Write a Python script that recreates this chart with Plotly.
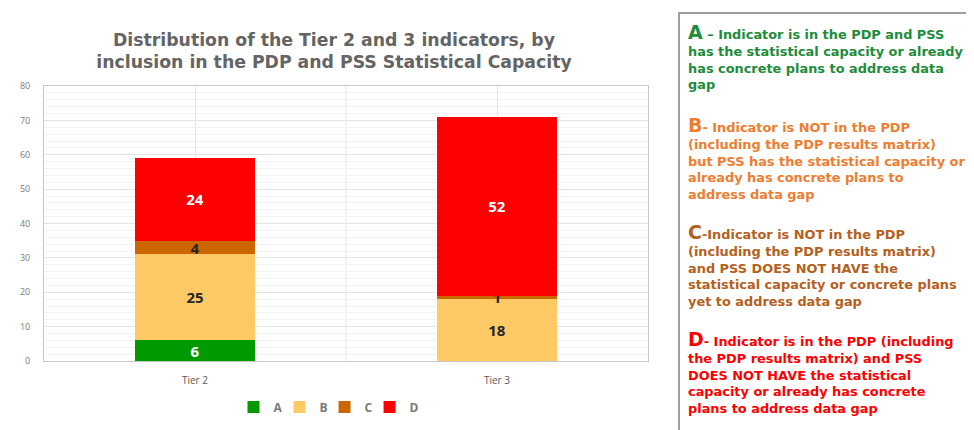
import plotly.graph_objects as go

categories = ["Tier 2", "Tier 3"]
series_names = ["A", "B", "C", "D"]
values_A = [6, 0]
values_B = [25, 18]
values_C = [4, 1]
values_D = [24, 52]
colors = ["#009A00", "#FFC966", "#CC6600", "#FF0000"]
label_colors = ["white", "#262626", "#262626", "white"]

y_ticks = [0, 10, 20, 30, 40, 50, 60, 70, 80]

legend_texts = [
    ("A", " – Indicator is in the PDP and PSS<br>has the statistical capacity or already<br>has concrete plans to address data<br>gap", "#1E8C3A"),
    ("B", "- Indicator is NOT in the PDP<br>(including the PDP results matrix)<br>but PSS has the statistical capacity or<br>already has concrete plans to<br>address data gap", "#ED7D31"),
    ("C", "-Indicator is NOT in the PDP<br>(including the PDP results matrix)<br>and PSS DOES NOT HAVE the<br>statistical capacity or concrete plans<br>yet to address data gap", "#B5601C"),
    ("D", "- Indicator is in the PDP (including<br>the PDP results matrix) and PSS<br>DOES NOT HAVE the statistical<br>capacity or already has concrete<br>plans to address data gap", "#FF0000"),
]

all_values = [values_A, values_B, values_C, values_D]

# page body has an 8px margin; lay out in screen pixels and compensate
OFF = 8
W, H = 974 - OFF, 430 - OFF
L = 44 - OFF
T = 86 - OFF
R = W - (648 - OFF)
B = H - (361 - OFF)
PW, PH = W - L - R, H - T - B


def px(x):
    return (x - OFF - L) / PW


def py(y):
    return (H - B - (y - OFF)) / PH


fig = go.Figure()
for name, vals, col, lc in zip(series_names, all_values, colors, label_colors):
    fig.add_trace(go.Bar(
        x=categories, y=vals, name=name,
        marker=dict(color=col, line=dict(width=0)),
        text=[str(v) if v else "" for v in vals],
        textposition="inside", insidetextanchor="middle",
        constraintext="none", textangle=0,
        textfont=dict(color=lc, size=15, family="Open Sans", weight="bold"),
    ))

fig.update_layout(
    width=W, height=H,
    margin=dict(l=L, r=R, t=T, b=B, autoexpand=False),
    barmode="stack", bargap=0.6,
    plot_bgcolor="white", paper_bgcolor="white",
    font=dict(family="Open Sans", color="#595959"),
    title=dict(
        text="<b>Distribution of the Tier 2 and 3 indicators, by<br>inclusion in the PDP and PSS Statistical Capacity</b>",
        x=(334 - OFF) / W, xanchor="center", xref="container",
        y=1 - (46 - OFF) / H, yanchor="middle", yref="container",
        font=dict(size=17.3, color="#646464", family="DejaVu Sans"),
    ),
    showlegend=True,
    legend=dict(orientation="h", x=px(333), xanchor="center",
                y=py(407), yanchor="middle",
                font=dict(size=12, color="#7A7A7A", weight="bold"), itemwidth=30,
                indentation=-8, traceorder="normal"),
    xaxis=dict(showline=True, linecolor="#C8C8C8", mirror=True,
               showgrid=True, gridcolor="#E6E6E6", ticklabelstandoff=10,
               tickfont=dict(size=10, color="#595959"), ticks=""),
    yaxis=dict(range=[0, 80], tickvals=y_ticks, showline=True, linecolor="#C8C8C8", mirror=True,
               showgrid=True, gridcolor="#E4E4E4", ticklabelstandoff=11,
               minor=dict(dtick=2, showgrid=True, gridcolor="#F2F2F2"),
               tickfont=dict(size=9, color="#7A7A7A"), ticks="", zeroline=False),
)

# divider grid between categories
fig.add_shape(type="line", xref="x", yref="paper", x0=0.5, x1=0.5, y0=0, y1=1,
              line=dict(color="#E6E6E6", width=1), layer="below")

# right-hand explanatory box
fig.add_shape(type="rect", xref="paper", yref="paper",
              x0=px(679), x1=px(1000), y0=py(470), y1=py(13),
              line=dict(color="#7F7F7F", width=1.5), fillcolor="white")

tops = [19, 112, 219, 326]
for (letter, body, col), top in zip(legend_texts, tops):
    fig.add_annotation(
        xref="paper", yref="paper",
        x=px(686), y=py(top),
        xanchor="left", yanchor="top", align="left", showarrow=False,
        text=f"<b><span style='font-size:19px'>{letter}</span>{body}</b>",
        font=dict(size=12.9, color=col, family="DejaVu Sans"),
    )

fig.write_html("out.html")
